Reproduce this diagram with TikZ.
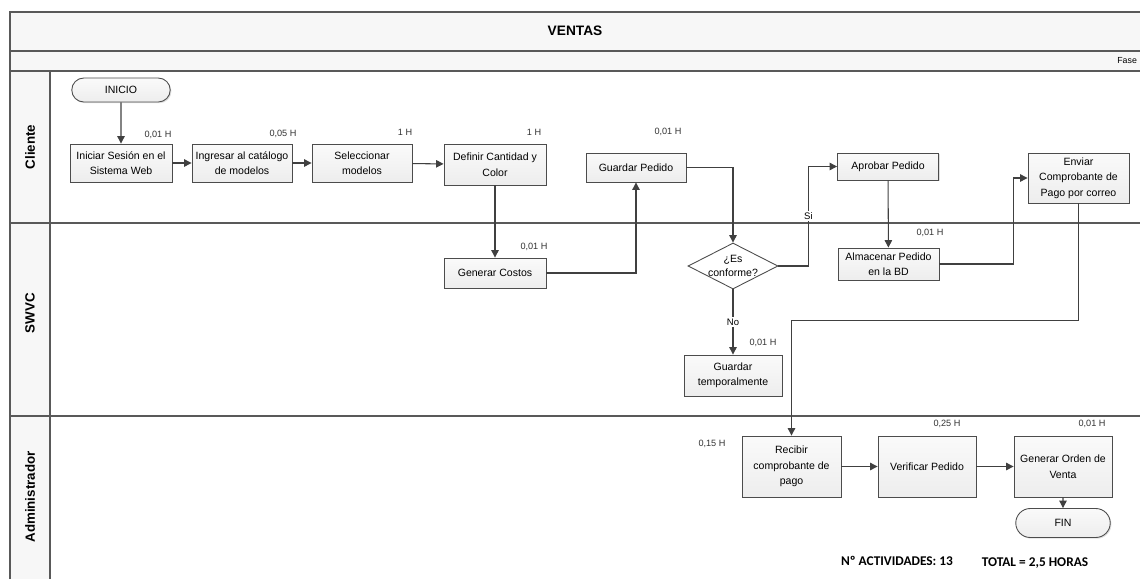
\documentclass[tikz,border=0pt]{standalone}
\usepackage{fontspec}
\setmainfont{Liberation Sans}
\newfontfamily\totales{Carlito}
\usetikzlibrary{arrows.meta,shapes.geometric,shapes.misc,shadows}

\begin{document}
\begin{tikzpicture}[x=0.02cm,y=-0.02cm,
  linea/.style={draw=black!65,line width=0.6pt},
  flecha/.style={draw=black!75,line width=0.6pt,-{Triangle[width=4.2pt,length=4.2pt]}},
  actividad/.style={draw=black!70,line width=0.5pt,top color=gray!4,bottom color=gray!14,
    drop shadow={shadow xshift=0.7pt,shadow yshift=-0.7pt,opacity=0.25},
    align=center,inner sep=1pt,font=\fontsize{6}{8.8}\selectfont},
  terminal/.style={actividad,rounded rectangle},
  decision/.style={draw=black!70,line width=0.5pt,diamond,fill=white,
    minimum width=1.8cm,minimum height=0.92cm,inner sep=0pt},
  tiempo/.style={font=\fontsize{5.2}{6}\selectfont,text=black!80},
  carril/.style={rotate=90,font=\bfseries\fontsize{7.6}{9}\selectfont},
  etiqueta/.style={fill=white,inner sep=0.8pt,font=\fontsize{5.4}{6}\selectfont}]
\useasboundingbox (0,0) rectangle (1140,579);

% bandas y carriles
\fill[gray!6] (10,12) rectangle (1140,71);
\fill[gray!6] (10,71) rectangle (50,579);
\draw[linea] (10,579) -- (10,12) -- (1140,12);
\draw[linea] (10,51) -- (1140,51);
\draw[linea] (10,71) -- (1140,71);
\draw[linea] (10,223) -- (1140,223);
\draw[linea] (10,416) -- (1140,416);
\draw[linea] (50,71) -- (50,579);

\node[font=\bfseries\fontsize{7.8}{9}\selectfont] (titulo) at (575,31) {VENTAS};
\node[left,inner sep=1pt,font=\fontsize{5}{6}\selectfont] (fase) at (1139,61) {Fase};
\node[carril] (cliente) at (30,147) {Cliente};
\node[carril] (swvc) at (30,313) {SWVC};
\node[carril] (admin) at (30,497) {Administrador};

% actividades
\node[terminal,minimum width=2.04cm,minimum height=0.48cm] (inicio) at (121,90) {INICIO};
\node[actividad,minimum width=2.04cm,minimum height=0.76cm] (iniciar) at (121,163) {Iniciar Sesión en el\\Sistema Web};
\node[actividad,minimum width=2cm,minimum height=0.76cm] (catalogo) at (242,163) {Ingresar al catálogo\\de modelos};
\node[actividad,minimum width=2cm,minimum height=0.76cm] (seleccionar) at (362,163) {Seleccionar\\modelos};
\node[actividad,minimum width=2.04cm,minimum height=0.82cm] (definir) at (495,164.5) {Definir Cantidad y\\Color};
\node[actividad,minimum width=2cm,minimum height=0.58cm] (guardar) at (636,167.5) {Guardar Pedido};
\node[actividad,minimum width=2.04cm,minimum height=0.6cm] (costos) at (495,273) {Generar Costos};
\node[decision] (conforme) at (733,266) {};
\node[align=center,inner sep=0pt,font=\fontsize{6}{8}\selectfont] (pregunta) at (conforme) {¿Es\\conforme?};
\node[actividad,minimum width=2.02cm,minimum height=0.54cm] (aprobar) at (888,166.5) {Aprobar Pedido};
\node[actividad,minimum width=2.02cm,minimum height=1cm] (enviar) at (1078.5,178) {Enviar\\Comprobante de\\Pago por correo};
\node[actividad,minimum width=2.02cm,minimum height=0.64cm] (almacenar) at (888.5,264) {Almacenar Pedido\\en la BD};
\node[actividad,minimum width=1.96cm,minimum height=0.82cm] (temporal) at (733,375.5) {Guardar\\temporalmente};
\node[actividad,minimum width=1.98cm,minimum height=1.22cm] (recibir) at (791.5,466.5) {Recibir\\comprobante de\\pago};
\node[actividad,minimum width=1.96cm,minimum height=1.22cm] (verificar) at (927,466.5) {Verificar Pedido};
\node[actividad,minimum width=1.96cm,minimum height=1.22cm] (orden) at (1063,466.5) {Generar Orden de\\Venta};
\node[terminal,minimum width=1.96cm,minimum height=0.58cm] (fin) at (1063,523) {FIN};

% tiempos
\node[tiempo] (t1) at (158,135) {0,01 H};
\node[tiempo] (t2) at (283,134) {0,05 H};
\node[tiempo] (t3) at (405,132) {1 H};
\node[tiempo] (t4) at (534,132) {1 H};
\node[tiempo] (t5) at (668,132) {0,01 H};
\node[tiempo] (t6) at (534,247) {0,01 H};
\node[tiempo] (t7) at (930,233) {0,01 H};
\node[tiempo] (t8) at (763,343) {0,01 H};
\node[tiempo] (t9) at (712,444) {0,15 H};
\node[tiempo] (t10) at (947,424) {0,25 H};
\node[tiempo] (t11) at (1092,424) {0,01 H};

% flujo
\draw[flecha] (inicio) -- (iniciar);
\draw[flecha] (iniciar) -- (catalogo);
\draw[flecha] (catalogo) -- (seleccionar);
\draw[flecha] (seleccionar) -- (definir);
\draw[flecha] (definir) -- (costos);
\draw[flecha] (costos.east) -| (guardar.south);
\draw[flecha] (guardar.east) -| (conforme.north);
\draw[flecha] (conforme.east) -- ++(30,0) |- (aprobar.west) node[etiqueta,pos=0.25] {Si};
\draw[flecha] (aprobar) -- (almacenar);
\draw[flecha] (almacenar.east) -- ++(74,0) |- (enviar.west);
\draw[flecha] (enviar.south) -- ++(0,117) -| (recibir.north);
\draw[flecha] (conforme.south) -- (temporal.north) node[etiqueta,pos=0.5] {No};
\draw[flecha] (recibir) -- (verificar);
\draw[flecha] (verificar) -- (orden);
\draw[flecha] (orden) -- (fin);

% totales
\node[font=\totales\bfseries\fontsize{7.6}{9}\selectfont] (actividades) at (897,561) {Nº ACTIVIDADES: 13};
\node[font=\totales\bfseries\fontsize{7.6}{9}\selectfont] (total) at (1035,563) {TOTAL = 2,5 HORAS};
\end{tikzpicture}
\end{document}
